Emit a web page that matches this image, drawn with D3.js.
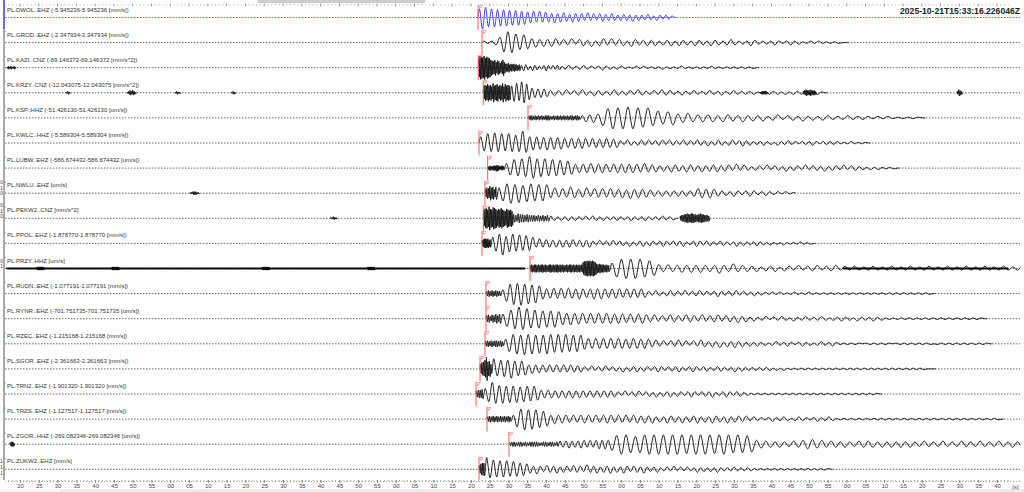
<!DOCTYPE html>
<html>
<head>
<meta charset="utf-8">
<script src="https://cdn.jsdelivr.net/npm/d3@7"></script>
<style>
  body { margin: 0; background: #fff; }
  svg { display: block; font-family: "Liberation Sans", Arial, sans-serif; }
</style>
</head>
<body>
<div id="chart"></div>
<script>
// window start, shown top right
const startLabel = "2025-10-21T15:33:16.226046Z";
const windowLength = 267.24; // seconds shown

const stations = ["PL.DWOL..EHZ", "PL.GROD..EHZ", "PL.KAZI..CNZ", "PL.KRZY..CNZ", "PL.KSP..HHZ",
  "PL.KWLC..HHZ", "PL.LUBW..EHZ", "PL.NWLU..EHZ", "PL.PEKW2..CNZ", "PL.PPOL..EHZ", "PL.PRZY..HHZ",
  "PL.RUDN..EHZ", "PL.RYNR..EHZ", "PL.RZEC..EHZ", "PL.SGOR..EHZ", "PL.TRN2..EHZ", "PL.TRZS..EHZ",
  "PL.ZGOR..HHZ", "PL.ZUKW2..EHZ"];
const units = ["mm/s", "mm/s", "mm/s^2", "mm/s^2", "um/s", "mm/s", "um/s", "um/s", "mm/s^2", "mm/s",
  "um/s", "mm/s", "um/s", "mm/s", "mm/s", "mm/s", "mm/s", "um/s", "mm/s"];
const ranges = [5.945236, 2.347934, 69.146372, 12.043075, 51.42613, 5.589304, 586.674432, null, null,
  1.87877, null, 1.077191, 701.751735, 1.215168, 2.361663, 1.90132, 1.127517, 269.082346, null];
// P picks, seconds after window start
const picks = [125.66, 126.73, 125.74, 127.07, 138.97, 125.93, 128.24, 127.52, 127.07, 126.73, 139.5,
  127.79, 127.79, 127.52, 126.2, 125.13, 128.06, 133.91, 125.93];

// waveform bursts: [start s, [[half period s, half cycles per digit, hex amplitudes (1/16 of range)], ...]]
const bursts = [
  [[125.66, [[0.8, 1, "bfdcbcabab9a9a8977868676575665465554645355445434443534334324323220"]]]],
  [[126.73, [[1.06, 1, "21237cedb9a856454553435244352453534425433434233424332433243323432224322223212322112121111100"]]]],
  [[0.32, [[0.15, 2, "12121121"]]],
   [125.74, [[0.18, 2, "cfedfcedca98a79868a755645454434"], [0.6, 1, "3443243322343232332"],
     [1.0, 1, "2322232212322122111212111121111211111112111111111110"]]]],
  [[16.0, [[0.2, 2, "121"]]],
   [32.25, [[0.18, 2, "1232321"]]],
   [45.0, [[0.2, 2, "1211"]]],
   [60.0, [[0.2, 2, "121"]]],
   [127.07, [[0.18, 2, "8a9b9a8c9ab8a9c8b9a9"], [0.67, 1, "9bcaedb9"], [0.8, 1, "665655"],
     [1.06, 1, "3433423343243323432332432232433223223222322322322222112222121222211210"]]],
   [200.7, [[0.18, 2, "122221"]]],
   [212.15, [[0.18, 2, "2343343332"]]],
   [253.13, [[0.18, 2, "2432"]]]],
  [[138.97, [[0.225, 2, "2332323232333223232323232332332"], [1.0, 1, "3546"],
     [1.33, 1, "5acedeeedcda988956654545354435343423423324232332223222212121111110"]]]],
  [[125.93, [[0.93, 1, "8acbdbcacbabfc89887978786667676566566656324323434233424332433243342343234234332223221322322122232122222111211110"]]]],
  [[128.24, [[0.15, 3, "2323343232"],
     [1.02, 1, "69bacbfdcbcabaa9985656665655565656556545343544354435344534435343233242332423324233242332423322121211110"]]]],
  [[49.0, [[0.18, 2, "1122211"]]],
   [127.52, [[0.2, 2, "57697858"],
     [1.06, 1, "7acdbcabcabab67565865574656565564756554434343434346656543324323432232221211"]]]],
  [[86.4, [[0.18, 2, "11211"]]],
   [127.07, [[0.18, 2, "acdbfcbedcacbdba9cbab9"], [0.3, 2, "5465545444343434"],
     [0.93, 1, "3323232322323323222322232223222232220"]]],
   [179.42, [[0.18, 2, "3445565566554556554443"]]]],
  [[126.73, [[0.15, 2, "45665645"],
     [0.89, 1, "8acf9bcab9a98565554545455445453242334233242334233234323334223432332233222423222322121112111121110"]]]],
  [[0.2, [[0.1, 20, "111121111111112111111111111111111121111111111111211111111111111111111"]]],
   [139.5, [[0.18, 2, "454554545545445545455454544545545454545899a9a9a986565554544"],
     [1.24, 1, "7bcdcdcba95454454545444644644434233423324233423342323222322232223222322232223222322232223221111"]]],
   [222.8, [[0.1, 20, "1111111111111111111111"]]]],
  [[127.79, [[0.25, 2, "34343433"],
     [0.97, 1, "5acedfcdbca766767676676567676566656565653243234332423342323432334232232221212111211121111111111111111111111111111111110"]]]],
  [[127.79, [[0.25, 2, "45354646"],
     [1.06, 1, "6abdfedcbcabab987877767676766665656654534354435443534453443534232231223213223222321223221322232211111111111111111111111110"]]]],
  [[127.52, [[0.25, 2, "3434344343"],
     [1.0, 1, "6acdbecdbcbdcbcbcabab7767676767666766664534243534243543435243534232322123223212322123223211111101111111011111111110111111111111110"]]]],
  [[126.2, [[0.2, 2, "689bf9a6"],
     [0.93, 1, "d9babca9a8565554545454544432423342332423342332343233342234323322332224232222222212121"],
     [0.93, 3, "11111111111110"]]]],
  [[125.13, [[0.25, 2, "4556"],
     [0.93, 1, "7afcbcabab9aa9a855554545454544444444443242334233242334233234323334223432332211111111111111111111111111111111111110"]]]],
  [[128.06, [[0.25, 2, "3434343434343"],
     [1.0, 1, "5adecdcba95655545455545455545454554545343544353445343544353443423221232232123221232232111111111111111111111111111111111111111111110"]]]],
  [[1.12, [[0.15, 2, "2332"]]],
   [133.91, [[0.3, 2, "2332332323333223323323"], [0.8, 1, "44454445545456565"],
     [1.24, 1, "8bdcbabcdcdcdcdcccdcdcccdcbcbba55443433445665544434334444343434343343334333433343334334332320"]]]],
  [[125.93, [[0.2, 2, "5788"],
     [0.89, 1, "fbcabab9a98875464354453443544364453445343543443533342232423232242323242222322222111111111111111111111110"]]]]
];

// cut-off amplitude labels at the very left edge
const edgeLabels = [["0", 184], ["1", 189.5], ["0", 195], ["0", 207], ["1", 212.5], ["0", 218],
  ["0", 262.5], ["1", 268], ["1", 463], ["1", 469], ["1", 475]];

const width = 1024, height = 492;
const selected = 0;

const t0 = new Date("2025-10-21T15:33:16.226Z");
const at = s => new Date(t0.getTime() + s * 1000);

const x = d3.scaleUtc()
  .domain([t0, at(windowLength)])
  .range([5.8, 1010]);

const row = d3.scalePoint()
  .domain(stations)
  .range([17.5, 469.3]);

const svg = d3.select("#chart")
  .append("svg")
  .attr("width", width)
  .attr("height", height);

svg.append("defs").append("clipPath")
  .attr("id", "plot")
  .append("rect")
  .attr("x", 4.5).attr("y", 0)
  .attr("width", 1016).attr("height", 480);

// scroll bars
svg.append("rect").attr("x", 258).attr("y", 0).attr("width", 167).attr("height", 3).style("fill", "#cdcdcd");
svg.append("rect").attr("x", 0).attr("y", 489).attr("width", width).attr("height", 3).style("fill", "#ececec");
svg.append("rect").attr("x", 0).attr("y", 489).attr("width", 60).attr("height", 3).style("fill", "#f7f7f7");

// top ticks
const secTicks = x.ticks(d3.utcSecond.every(1));
svg.append("g").selectAll("line")
  .data(secTicks)
  .enter()
  .append("line")
  .attr("x1", d => x(d)).attr("x2", d => x(d))
  .attr("y1", d => d.getUTCSeconds() % 5 == 0 ? 3.5 : 4.5)
  .attr("y2", d => d.getUTCSeconds() % 5 == 0 ? 6.5 : 5.3)
  .style("stroke", "#666")
  .style("stroke-width", 0.7);

// left axis line
svg.append("line")
  .attr("x1", 4).attr("x2", 4).attr("y1", 0).attr("y2", 480)
  .style("stroke", "#555").style("stroke-width", 1);
svg.append("line")
  .attr("x1", 4).attr("x2", 4).attr("y1", 0).attr("y2", 29)
  .style("stroke", "#3030ff").style("stroke-width", 1);

svg.append("g").selectAll("text")
  .data(edgeLabels)
  .enter()
  .append("text")
  .attr("x", 0.3)
  .attr("y", d => d[1])
  .style("font-size", "4.5px")
  .style("fill", "#333")
  .text(d => d[0]);

const tracesG = svg.append("g").attr("clip-path", "url(#plot)");

stations.forEach(function(st, i) {
  const base = row(st);
  const r = ranges[i] || 1;
  const color = i == selected ? "#1f1fff" : "#000";
  const y = d3.scaleLinear().domain([-r, r]).range([base + 12.5, base - 12.5]);

  // zero line
  tracesG.append("line")
    .attr("x1", 5).attr("x2", 1020)
    .attr("y1", base).attr("y2", base)
    .style("stroke", i == selected ? "#4a4aff" : "#555")
    .style("stroke-width", 0.9)
    .style("stroke-dasharray", "1.5,1.5");

  // small tick at the left axis
  svg.append("line")
    .attr("x1", 4).attr("x2", 6)
    .attr("y1", base - 11).attr("y2", base - 11)
    .style("stroke", "#777").style("stroke-width", 0.6);

  const label = ranges[i] == null
    ? `${st} [${units[i]}]`
    : `${st} (-${ranges[i].toFixed(6)}-${ranges[i].toFixed(6)} [${units[i]}])`;
  svg.append("text")
    .attr("x", 7)
    .attr("y", base - 6)
    .style("font-size", "6px")
    .style("fill", "#333")
    .text(label);

  const line = d3.line()
    .x(d => x(at(d[0])))
    .y(d => y(d[1]))
    .curve(d3.curveCatmullRom.alpha(0.5));

  bursts[i].forEach(function([start, parts]) {
    const pts = [[start, 0]];
    let t = start, k = 0;
    parts.forEach(function([hp, n, amp]) {
      for (let j = 0; j < amp.length * n; j++) {
        const a = parseInt(amp[Math.floor(j / n)], 16) / 16 * r;
        pts.push([t + hp / 2, k % 2 ? -a : a]);
        t += hp;
        k++;
      }
    });
    pts.push([t, 0]);
    tracesG.append("path")
      .attr("d", line(pts))
      .style("fill", "none")
      .style("stroke", color)
      .style("stroke-width", 0.85);
  });

  // P pick
  const px = x(at(picks[i]));
  tracesG.append("line")
    .attr("x1", px).attr("x2", px)
    .attr("y1", base - 12.5).attr("y2", base + 12.5)
    .style("stroke", "#ff5a5a")
    .style("stroke-width", 1);
  tracesG.append("text")
    .attr("x", px + 1)
    .attr("y", base - 8.5)
    .style("font-size", "5px")
    .style("fill", "#ff5a5a")
    .text("P");
});

// bottom time axis
const axisG = svg.append("g")
  .attr("transform", "translate(0,480)")
  .call(d3.axisBottom(x)
    .ticks(d3.utcSecond.every(5))
    .tickFormat(d3.utcFormat("%S"))
    .tickSize(3)
    .tickPadding(0.8));
axisG.select(".domain").remove();
axisG.selectAll(".tick line").style("stroke", "#555").style("stroke-width", 0.7);
axisG.selectAll(".tick text")
  .style("font-size", "6px")
  .style("fill", "#444")
  .style("font-family", "Liberation Sans, Arial, sans-serif");

svg.append("line")
  .attr("x1", 5).attr("x2", 1020)
  .attr("y1", 481.5).attr("y2", 481.5)
  .style("stroke", "#777")
  .style("stroke-width", 0.7)
  .style("stroke-dasharray", "1,2");

svg.append("g").selectAll("line")
  .data(secTicks)
  .enter()
  .append("line")
  .attr("x1", d => x(d)).attr("x2", d => x(d))
  .attr("y1", 480).attr("y2", 481.5)
  .style("stroke", "#777")
  .style("stroke-width", 0.6);

svg.append("text")
  .attr("x", 1015.5).attr("y", 488.5)
  .attr("text-anchor", "middle")
  .style("font-size", "6px")
  .style("fill", "#444")
  .text("[s]");

svg.append("text")
  .attr("x", 1020).attr("y", 14)
  .attr("text-anchor", "end")
  .style("font-size", "8.6px")
  .style("font-weight", "bold")
  .style("fill", "#222")
  .text(startLabel);
</script>
</body>
</html>
